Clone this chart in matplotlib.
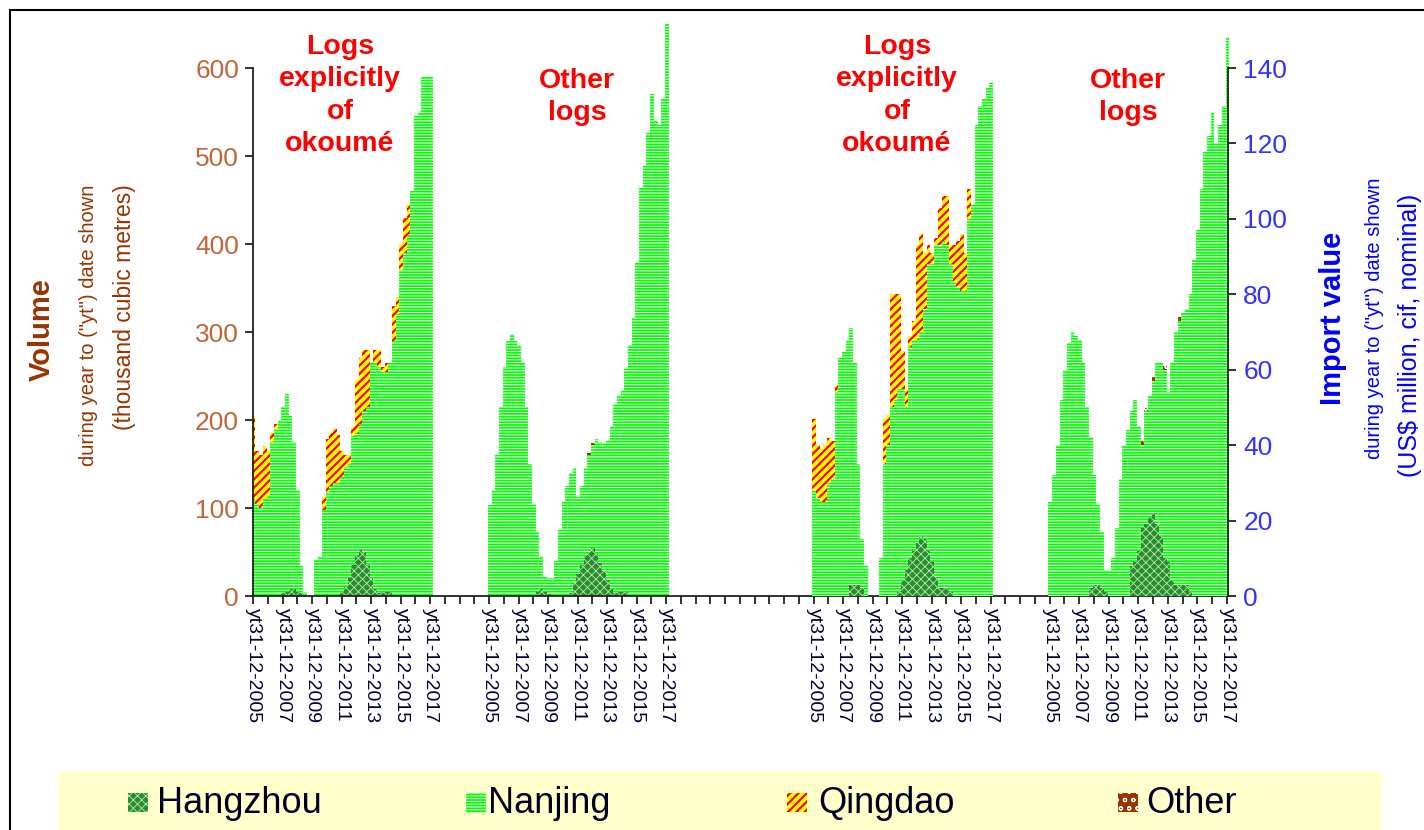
import numpy as np
import matplotlib as mpl
import matplotlib.pyplot as plt
from matplotlib.patches import Rectangle

plt.rcParams["font.family"] = ["Liberation Sans", "DejaVu Sans"]

W, H = 1424, 830

# quarterly "year to date" values, yt31-12-2005 .. yt31-12-2017 (49 points)
# okoumé logs, volume (thousand m3)
okoume_vol_hangzhou = [0, 0, 0, 0, 0, 0, 0, 0, 3, 5, 8, 8, 5, 3, 0, 0, 0, 0, 0, 0, 0, 0, 0, 0,
                       5, 10, 20, 35, 45, 52, 50, 35, 20, 8, 3, 5, 5, 4, 0, 0, 0, 0, 0, 0, 0, 0, 0, 0, 0]
okoume_vol_nanjing = [110, 105, 100, 110, 115, 175, 190, 200, 212, 225, 197, 167, 115, 32, 5, 0, 0, 41, 45,
                      98, 118, 125, 128, 128, 130, 137, 130, 147, 140, 143, 160, 180, 245, 257, 257, 250,
                      250, 261, 290, 320, 370, 390, 410, 460, 545, 550, 590, 590, 590]
okoume_vol_qingdao = [95, 60, 60, 60, 50, 10, 5, 0, 0, 0, 0, 0, 0, 0, 0, 0, 0, 0, 0,
                      15, 60, 60, 62, 55, 30, 13, 10, 10, 60, 75, 70, 65, 0, 15, 20, 5, 10, 0,
                      40, 20, 30, 40, 35, 0, 0, 0, 0, 0, 0]
okoume_vol_other = [0] * 49

# other logs, volume (thousand m3)
other_vol_hangzhou = [0, 0, 0, 0, 0, 0, 0, 0, 0, 0, 0, 0, 0, 5, 8, 4, 2, 0, 0, 0, 0, 0,
                      3, 15, 25, 35, 45, 50, 55, 48, 38, 28, 18, 8, 3, 5, 5, 4,
                      0, 0, 0, 0, 0, 0, 0, 0, 0, 0, 0]
other_vol_nanjing = [103, 120, 160, 215, 260, 290, 298, 290, 285, 265, 215, 150, 105, 68, 37, 18, 18,
                     20, 40, 75, 108, 125, 137, 130, 87, 90, 100, 110, 117, 130, 137, 146, 159, 184,
                     215, 223, 229, 254, 285, 316, 380, 465, 490, 526, 570, 540, 535, 565, 650]
other_vol_qingdao = [0] * 49
other_vol_other = [0] * 27 + [2, 2] + [0] * 20

# okoumé logs, import value (US$ million)
okoume_val_hangzhou = [0] * 10 + [3, 3, 3, 2] + [0] * 9 + \
    [1, 4, 7, 10, 12, 14, 16, 15, 12, 9, 5, 2, 2, 2, 1] + [0] * 11
okoume_val_nanjing = [28, 26, 25, 25, 30, 31, 54, 63, 65, 68, 68, 59, 32, 13, 8, 0, 0, 0, 10,
                      35, 40, 50, 52, 54, 51, 43, 56, 56, 54, 54, 61, 76, 79, 88, 91, 92, 91, 87,
                      83, 82, 81, 81, 100, 104, 125, 130, 132, 135, 136]
okoume_val_qingdao = [19, 14, 14, 15, 12, 10, 2] + [0] * 12 + \
    [12, 8, 30, 28, 25, 10, 5, 3, 5, 25, 26, 15, 5, 3, 2, 10, 12, 13, 5, 10, 12, 15, 10, 8] + [0] * 6
okoume_val_other = [0] * 49

# other logs, import value (US$ million)
other_val_hangzhou = [0] * 11 + [2, 3, 3, 2, 1] + [0] * 6 + \
    [8, 9, 12, 18, 19, 21, 22, 19, 16, 10, 9, 4, 3, 3, 3, 3, 1] + [0] * 10
other_val_nanjing = [25, 32, 40, 52, 60, 67, 70, 69, 68, 62, 50, 40, 29, 21, 15, 6, 7, 10, 18,
                     31, 40, 44, 41, 43, 33, 22, 30, 32, 35, 43, 46, 50, 45, 58, 67, 70, 72, 73,
                     79, 89, 97, 108, 118, 122, 128, 120, 125, 130, 148]
other_val_qingdao = [0] * 49
other_val_other = [0] * 25 + [1, 1, 0, 1, 0, 0, 1, 0, 0, 0, 1] + [0] * 13

series_names = ["Hangzhou", "Nanjing", "Qingdao", "Other"]
years = ["2005", "2007", "2009", "2011", "2013", "2015", "2017"]
tick_labels = ["yt31-12-" + y for y in years]
group_titles = ["Logs\nexplicitly\nof\nokoumé", "Other\nlogs", "Logs\nexplicitly\nof\nokoumé", "Other\nlogs"]

STYLE = {
    "Hangzhou": dict(facecolor="#2A8C2A", edgecolor="#B8EAB8", hatch="xxxx", hlw=0.6),
    "Nanjing": dict(facecolor="#00FF00", edgecolor="#FFFFFF", hatch="------", hlw=0.7),
    "Qingdao": dict(facecolor="#FFFF00", edgecolor="#FF0000", hatch="////", hlw=1.6),
    "Other": dict(facecolor="#993300", edgecolor="#FFFFFF", hatch="oo", hlw=0.8),
}
VOL_COL = "#C0663A"
VOL_DARK = "#993300"
VAL_COL = "#3333FF"


def fx(px):
    return px / W


def fy(py):
    return 1 - py / H


def draw_group(axis, start, parts):
    x = start + 3 * np.arange(len(parts[0]))
    bottom = np.zeros(len(x))
    for name, vals in zip(series_names, parts):
        st = STYLE[name]
        with mpl.rc_context({"hatch.linewidth": st["hlw"]}):
            bars = axis.bar(x, vals, width=3, bottom=bottom, facecolor=st["facecolor"],
                            edgecolor=st["edgecolor"], hatch=st["hatch"], linewidth=0,
                            clip_on=False)
        for b in bars:
            if hasattr(b, "set_hatch_linewidth"):
                b.set_hatch_linewidth(st["hlw"])
        bottom = bottom + np.asarray(vals, dtype=float)


fig = plt.figure(figsize=(W / 100, H / 100), dpi=100)
ax = fig.add_axes([fx(253), fy(596), fx(1228) - fx(253), (596 - 68) / H])
ax2 = ax.twinx()

n_cat = 793
starts = [0, 192, 456, 648]
ax.set_xlim(-0.5, n_cat - 0.5)
ax.set_ylim(0, 600)
ax2.set_ylim(0, 140)

draw_group(ax, starts[0], [okoume_vol_hangzhou, okoume_vol_nanjing, okoume_vol_qingdao, okoume_vol_other])
draw_group(ax, starts[1], [other_vol_hangzhou, other_vol_nanjing, other_vol_qingdao, other_vol_other])
draw_group(ax2, starts[2], [okoume_val_hangzhou, okoume_val_nanjing, okoume_val_qingdao, okoume_val_other])
draw_group(ax2, starts[3], [other_val_hangzhou, other_val_nanjing, other_val_qingdao, other_val_other])

for a in (ax, ax2):
    a.spines["top"].set_visible(False)
    for s in a.spines.values():
        s.set_linewidth(1.3)
        s.set_color("#222222")
ax.spines["right"].set_visible(False)
ax2.spines["left"].set_visible(False)
ax2.spines["bottom"].set_visible(False)

ax.set_yticks(range(0, 601, 100))
ax.tick_params(axis="y", length=6, width=1.3, color="#222222", labelsize=19,
               labelcolor=VOL_COL, pad=4)
ax2.set_yticks(range(0, 141, 20))
ax2.tick_params(axis="y", length=6, width=1.3, color="#222222", labelsize=19,
                labelcolor=VAL_COL, pad=5)

ax.set_xticks(np.arange(-0.5, n_cat, 12), minor=True)
label_pos = [s + 24 * j for s in starts for j in range(len(years))]
ax.set_xticks(label_pos)
ax.set_xticklabels(tick_labels * 4, rotation=-90, fontsize=14, color="#000033")
ax.tick_params(axis="x", which="major", length=0, pad=9)
ax.tick_params(axis="x", which="minor", length=6, width=1.3, color="#222222")

# group titles
for tx, ty, t in zip([340, 577, 897, 1128], [34, 68, 34, 68], group_titles):
    fig.text(fx(tx), fy(ty), t, ha="center", va="top", color="#FF0000", fontsize=20.5,
             fontweight="bold", linespacing=1.32)

# axis titles
fig.text(fx(42), fy(330), "Volume", rotation=90, ha="center", va="center",
         color=VOL_DARK, fontsize=21, fontweight="bold")
fig.text(fx(89), fy(325), 'during year to ("yt") date shown', rotation=90, ha="center",
         va="center", color=VOL_DARK, fontsize=14.5)
fig.text(fx(125), fy(307), "(thousand cubic metres)", rotation=90, ha="center",
         va="center", color=VOL_DARK, fontsize=16.5)
fig.text(fx(1333), fy(318), "Import value", rotation=90, ha="center", va="center",
         color="#0000FF", fontsize=21, fontweight="bold")
fig.text(fx(1374), fy(318), 'during year to ("yt") date shown', rotation=90, ha="center",
         va="center", color="#0000FF", fontsize=14.5)
fig.text(fx(1410), fy(335), "(US$ million, cif, nominal)", rotation=90, ha="center",
         va="center", color="#0000FF", fontsize=18)

# legend band
fig.add_artist(Rectangle((fx(58), fy(835)), fx(1382) - fx(58), (835 - 772) / H,
                         transform=fig.transFigure, facecolor="#FFFFCC", edgecolor="none"))
for name, px_patch, px_text in zip(series_names, [128, 466, 787, 1118], [157, 488, 818, 1146]):
    st = STYLE[name]
    with mpl.rc_context({"hatch.linewidth": st["hlw"]}):
        p = Rectangle((fx(px_patch), fy(812)), 20 / W, 19 / H, transform=fig.transFigure,
                      facecolor=st["facecolor"], edgecolor=st["edgecolor"], hatch=st["hatch"],
                      linewidth=0)
    if hasattr(p, "set_hatch_linewidth"):
        p.set_hatch_linewidth(st["hlw"])
    fig.add_artist(p)
    fig.text(fx(px_text), fy(803), name, ha="left", va="center", fontsize=26, color="#000022")

# outer frame
fig.add_artist(Rectangle((fx(10), fy(900)), 1.2, (900 - 10) / H, transform=fig.transFigure,
                         fill=False, edgecolor="#000000", linewidth=1.5))

fig.savefig("out.png", dpi=100)
